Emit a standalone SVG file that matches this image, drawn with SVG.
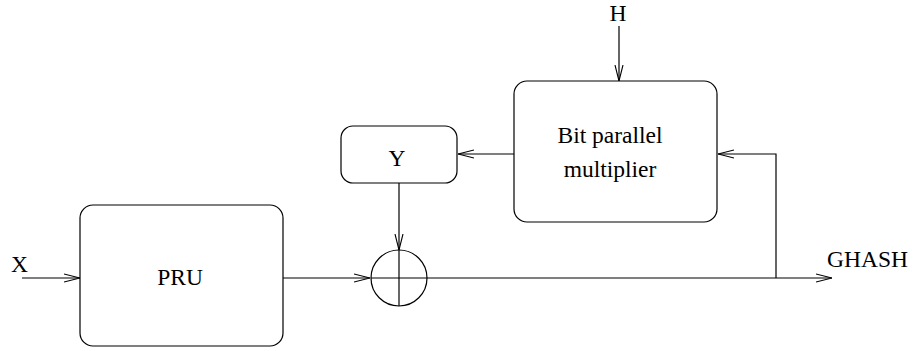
<svg xmlns="http://www.w3.org/2000/svg" width="915" height="351" viewBox="0 0 915 351">
<style>
.box{fill:none;stroke:#000;stroke-width:1.2}
.ln{fill:none;stroke:#000;stroke-width:1.2}
.t{font-family:"Liberation Serif",serif;font-size:23.5px;fill:#000}
</style>
<defs>
<marker id="ah" viewBox="0 0 16 10" refX="16" refY="5" markerWidth="16" markerHeight="10" markerUnits="userSpaceOnUse" orient="auto">
<path d="M0,1 L16,5 L0,9" fill="none" stroke="#000" stroke-width="1.1"/>
</marker>
</defs>
<rect width="915" height="351" fill="#fff"/>
<g id="pru">
<rect class="box" x="80" y="205" width="203" height="141" rx="13"/>
<text class="t" x="180" y="285" text-anchor="middle">PRU</text>
</g>
<g id="xor">
<circle class="box" cx="399" cy="278" r="28"/>
<line class="ln" x1="399" y1="250" x2="399" y2="306"/>
<line class="ln" x1="371" y1="278" x2="427" y2="278"/>
</g>
<g id="y">
<rect class="box" x="341" y="126" width="116" height="57" rx="12"/>
<text class="t" x="397" y="166" text-anchor="middle">Y</text>
</g>
<g id="mult">
<rect class="box" x="514" y="81" width="203" height="141" rx="13"/>
<text class="t" x="610" y="143" text-anchor="middle">Bit parallel</text>
<text class="t" x="610" y="177" text-anchor="middle">multiplier</text>
</g>
<g id="labels">
<text class="t" x="11" y="272">X</text>
<text class="t" x="618" y="21" text-anchor="middle">H</text>
<text class="t" x="827" y="267">GHASH</text>
</g>
<g id="connectors">
<line class="ln" x1="22" y1="278" x2="80" y2="278" marker-end="url(#ah)"/>
<line class="ln" x1="283" y1="278" x2="370" y2="278" marker-end="url(#ah)"/>
<line class="ln" x1="399" y1="183" x2="399" y2="250" marker-end="url(#ah)"/>
<line class="ln" x1="514" y1="154" x2="458" y2="154" marker-end="url(#ah)"/>
<line class="ln" x1="619" y1="26" x2="619" y2="81" marker-end="url(#ah)"/>
<line class="ln" x1="427" y1="278" x2="832" y2="278" marker-end="url(#ah)"/>
<polyline class="ln" points="776,278 776,154 718,154" marker-end="url(#ah)"/>
</g>
</svg>
